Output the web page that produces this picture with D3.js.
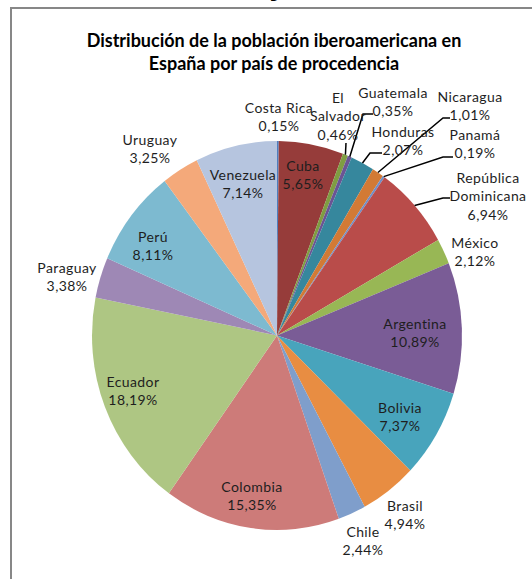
<!DOCTYPE html>
<html>
<head>
<meta charset="utf-8">
<script src="https://cdn.jsdelivr.net/npm/d3@7"></script>
<style>
    body { margin: 0; background: #fff; }
    text { font-family: Lato, "Open Sans", sans-serif; }
</style>
</head>
<body>
<script>
const w = 532; // width
const h = 579; // height

// data
const countries = ["Costa Rica", "Cuba", "El Salvador", "Guatemala", "Honduras", "Nicaragua", "Panamá",
    "República Dominicana", "México", "Argentina", "Bolivia", "Brasil", "Chile", "Colombia", "Ecuador",
    "Paraguay", "Perú", "Uruguay", "Venezuela"];
const shares = [0.15, 5.65, 0.46, 0.35, 2.07, 1.01, 0.19, 6.94, 2.12, 10.89, 7.37, 4.94, 2.44, 15.35, 18.19,
    3.38, 8.11, 3.25, 7.14];
const titleLines = ["Distribución de la población iberoamericana en", "España por país de procedencia"];

// style
const colors = ["#4f7fbf", "#963c3a", "#7f9d42", "#6b5494", "#36879d", "#d27a35", "#6f8fc8",
    "#b94c4a", "#98b755", "#7a5c96", "#48a4bc", "#e88d42", "#7f9ecb", "#cd7b79", "#aec683",
    "#9e88b5", "#7dbad0", "#f4a97a", "#b6c5df"];

// label layout: centre of first line, optional leader [elbow, end]
const labelPos = {
    "Costa Rica": [279, 108],
    "Cuba": [303, 166],
    "El Salvador": [338, 98, [[346, 143]]],
    "Guatemala": [393, 93, [[363, 114], [373, 114]]],
    "Honduras": [403, 132, [[370, 153], [382, 153]]],
    "Nicaragua": [470, 97, [[443, 118], [450, 118]]],
    "Panamá": [475, 135, [[443, 157], [453, 157]]],
    "República Dominicana": [488, 178, [[443, 198], [450, 198]]],
    "México": [475, 243],
    "Argentina": [415, 324],
    "Bolivia": [400, 408],
    "Brasil": [405, 506],
    "Chile": [363, 532],
    "Colombia": [252, 487],
    "Ecuador": [133, 382],
    "Paraguay": [67, 268],
    "Perú": [153, 237],
    "Uruguay": [150, 140],
    "Venezuela": [243, 175]
};

const cx = 277, cy = 335.5; // pie centre
const rx = 185, ry = 194.5; // picture is slightly stretched
const lineGap = 18.5;

let dataset = countries.map((c, i) => ({ country: c, share: shares[i] }));

let svg = d3.select("body")
    .append("svg")
    .attr('width', w)
    .attr('height', h);

// bit of the page above the chart
svg.append("text")
    .attr("x", 278)
    .attr("y", -4)
    .attr("text-anchor", "middle")
    .style("font-family", "DejaVu Serif")
    .style("font-style", "italic")
    .style("font-size", "22px")
    .text("y");

// frame
svg.append("path")
    .attr("d", `M11,${h} V8 H${w}`)
    .attr("fill", "none")
    .attr("stroke", "#878787")
    .attr("stroke-width", 2);

// title
svg.append("g")
    .selectAll("text")
    .data(titleLines)
    .enter()
    .append("text")
    .attr("x", 274)
    .attr("y", (d, i) => 47 + i * 23)
    .attr("text-anchor", "middle")
    .style("font-weight", "bold")
    .style("font-size", "18px")
    .attr("fill", "#000")
    .text(d => d);

let pie = d3.pie()
    .sort(null)
    .value(d => d.share);

let arc = d3.arc()
    .innerRadius(0)
    .outerRadius(rx);

let arcs = pie(dataset);

let color = d3.scaleOrdinal()
    .domain(countries)
    .range(colors);

svg.append("g")
    .attr("transform", `translate(${cx},${cy}) scale(1,${ry / rx})`)
    .selectAll("path")
    .data(arcs)
    .enter()
    .append("path")
    .attr("d", arc)
    .attr("fill", d => color(d.data.country));

let fmt = v => d3.format(".2f")(v).replace(".", ",") + "%";

// leader lines
let edgePoint = (d) => {
    let a = (d.startAngle + d.endAngle) / 2;
    return [cx + rx * Math.sin(a), cy - ry * Math.cos(a)];
};

svg.append("g")
    .selectAll("path")
    .data(arcs.filter(d => labelPos[d.data.country][2]))
    .enter()
    .append("path")
    .attr("d", d => d3.line()([edgePoint(d)].concat(labelPos[d.data.country][2])))
    .attr("fill", "none")
    .attr("stroke", "#000")
    .attr("stroke-width", 1.5);

// labels
let labels = svg.append("g")
    .selectAll("text")
    .data(arcs)
    .enter()
    .append("text")
    .attr("text-anchor", "middle")
    .style("font-size", "14px")
    .style("letter-spacing", "0.4px")
    .attr("fill", "#1e1e1e");

labels.each(function (d) {
    let name = d.data.country;
    let lines = name == "Costa Rica" ? [name] : name.split(" ");
    lines.push(fmt(d.data.share));
    let pos = labelPos[name];
    d3.select(this).selectAll("tspan")
        .data(lines)
        .enter()
        .append("tspan")
        .attr("x", pos[0])
        .attr("y", (l, i) => pos[1] + i * lineGap)
        .attr("dy", "0.35em")
        .text(l => l);
});
</script>
</body>
</html>
